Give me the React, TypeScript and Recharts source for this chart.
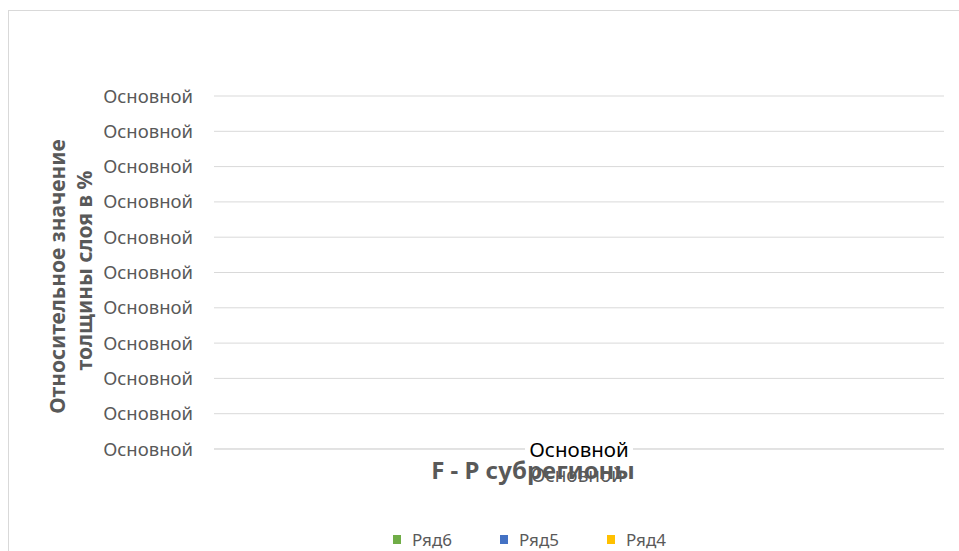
import { BarChart, Bar, XAxis, YAxis, CartesianGrid, Legend, Label } from 'recharts';

// Empty template chart: categories and series have no values yet,
// every axis label still shows the "General" number format text.
const categories = ['Основной'];
const ryad6 = [null];
const ryad5 = [null];
const ryad4 = [null];

const yTicks = [0, 1, 2, 3, 4, 5, 6, 7, 8, 9, 10];
const yTickLabels = ['Основной', 'Основной', 'Основной', 'Основной', 'Основной', 'Основной', 'Основной', 'Основной', 'Основной', 'Основной', 'Основной'];

const seriesNames = ['Ряд6', 'Ряд5', 'Ряд4'];
const seriesColors = ['#70AD47', '#4472C4', '#FFC000'];

const yTitle = ['Относительное значение', 'толщины слоя в %'];
const xTitle = 'F - P субрегионы';
const xSubLabel = 'Основной';

const FONT = '"Noto Sans", sans-serif';
const GRAY = '#595959';

const data = categories.map((category, i) => ({
  category,
  [seriesNames[0]]: ryad6[i],
  [seriesNames[1]]: ryad5[i],
  [seriesNames[2]]: ryad4[i],
}));

const CategoryTick = ({ x, y, payload }: any) => (
  <g>
    <rect x={x - 54} y={y - 9} width={108} height={19} fill="#fff" />
    <text x={x} y={y + 8} textAnchor="middle" fontFamily={FONT} fontSize={20.5} fill="#000">
      {payload.value}
    </text>
    <text x={x - 2} y={y + 33} textAnchor="middle" fontFamily={FONT} fontSize={19} fill={GRAY}>
      {xSubLabel}
    </text>
  </g>
);

const XTitle = ({ viewBox }: any) => (
  <text
    x={viewBox.x + viewBox.width / 2 - 46}
    y={viewBox.y + 30}
    textAnchor="middle"
    fontFamily={FONT}
    fontSize={24}
    fontWeight="bold"
    fill={GRAY}
  >
    {xTitle}
  </text>
);

const YTitle = ({ viewBox }: any) => {
  const cy = viewBox.y + viewBox.height / 2;
  return (
    <g fontFamily={FONT} fontSize={21} fontWeight="bold" fill={GRAY}>
      <text x={56} y={cy + 4} textAnchor="middle" transform={`rotate(-90, 56, ${cy + 4})`}>
        {yTitle[0]}
      </text>
      <text x={83} y={cy - 2} textAnchor="middle" transform={`rotate(-90, 83, ${cy - 2})`}>
        {yTitle[1]}
      </text>
    </g>
  );
};

const LegendContent = () => (
  <div style={{ display: 'flex', height: 20, alignItems: 'center', paddingLeft: 384, fontFamily: FONT, fontSize: 17, color: GRAY }}>
    {seriesNames.map((name, i) => (
      <div key={name} style={{ width: 107, display: 'flex', alignItems: 'center' }}>
        <span style={{ display: 'inline-block', width: 8, height: 9, background: seriesColors[i], marginRight: 11 }} />
        <span>{name}</span>
      </div>
    ))}
  </div>
);

export default function App() {
  return (
    <div
      style={{
        position: 'absolute',
        left: 8,
        top: 10,
        width: 950,
        height: 540,
        borderTop: '1px solid #d9d9d9',
        borderLeft: '1px solid #d9d9d9',
        background: '#fff',
      }}
    >
      <BarChart width={950} height={540} data={data} margin={{ top: 85, right: 15, left: 0, bottom: 52 }}>
        <CartesianGrid vertical={false} stroke="#d9d9d9" strokeWidth={1} />
        <XAxis
          dataKey="category"
          height={30}
          tickSize={0}
          tickMargin={0}
          axisLine={{ stroke: '#d9d9d9' }}
          tick={<CategoryTick />}
        >
          <Label content={<XTitle />} />
        </XAxis>
        <YAxis
          type="number"
          width={205}
          domain={[0, 10]}
          allowDataOverflow
          ticks={yTicks}
          interval={0}
          tickSize={0}
          tickMargin={21}
          axisLine={false}
          tickFormatter={(v: number) => yTickLabels[yTicks.indexOf(v)]}
          tick={{ fill: GRAY, fontSize: 18.5, fontFamily: FONT }}
        >
          <Label content={<YTitle />} />
        </YAxis>
        {seriesNames.map((name, i) => (
          <Bar key={name} dataKey={name} name={name} fill={seriesColors[i]} isAnimationActive={false} />
        ))}
        <Legend
          verticalAlign="bottom"
          content={<LegendContent />}
          wrapperStyle={{ left: 0, width: 950, bottom: 2, top: 'auto' }}
        />
      </BarChart>
    </div>
  );
}
